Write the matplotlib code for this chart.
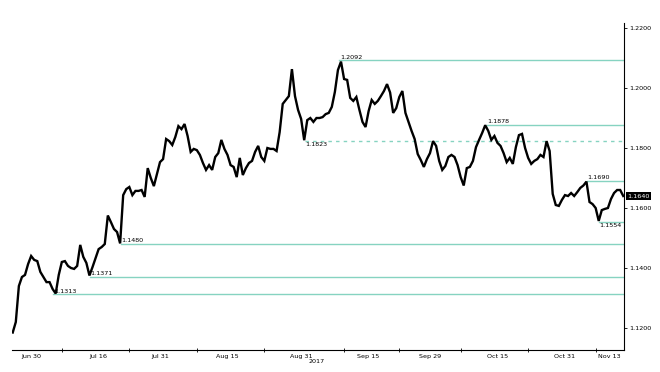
import numpy as np
import matplotlib.pyplot as plt

# EUR/USD, two samples per trading day, x = trading days since 2017-06-26
start = "2017-06-26"
first_day = 1.0
step = 0.5
eurusd = [
    1.1185, 1.1220, 1.1340, 1.1370, 1.1377, 1.1413, 1.1440, 1.1427, 1.1423, 1.1387,
    1.1370, 1.1353, 1.1353, 1.1330, 1.1315, 1.1377, 1.1420, 1.1423, 1.1407, 1.1400,
    1.1397, 1.1407, 1.1477, 1.1437, 1.1417, 1.1375, 1.1403, 1.1433, 1.1463, 1.1470,
    1.1480, 1.1575, 1.1553, 1.1530, 1.1520, 1.1482, 1.1643, 1.1663, 1.1670, 1.1643,
    1.1657, 1.1657, 1.1660, 1.1637, 1.1733, 1.1700, 1.1673, 1.1713, 1.1753, 1.1763,
    1.1830, 1.1823, 1.1810, 1.1837, 1.1873, 1.1863, 1.1880, 1.1840, 1.1787, 1.1797,
    1.1793, 1.1777, 1.1750, 1.1727, 1.1743, 1.1727, 1.1770, 1.1783, 1.1827, 1.1797,
    1.1777, 1.1743, 1.1737, 1.1703, 1.1767, 1.1710, 1.1733, 1.1750, 1.1757, 1.1787,
    1.1807, 1.1770, 1.1757, 1.1800, 1.1797, 1.1797, 1.1790, 1.1853, 1.1947, 1.1960,
    1.1973, 1.2063, 1.1973, 1.1927, 1.1897, 1.1826, 1.1893, 1.1900, 1.1887, 1.1900,
    1.1900, 1.1903, 1.1913, 1.1917, 1.1937, 1.1987, 1.2060, 1.2088, 1.2030, 1.2027,
    1.1967, 1.1957, 1.1970, 1.1927, 1.1887, 1.1870, 1.1923, 1.1960, 1.1947, 1.1957,
    1.1973, 1.1990, 1.2013, 1.1985, 1.1917, 1.1933, 1.1970, 1.1990, 1.1917, 1.1887,
    1.1857, 1.1830, 1.1780, 1.1760, 1.1737, 1.1763, 1.1783, 1.1823, 1.1807, 1.1757,
    1.1727, 1.1740, 1.1770, 1.1777, 1.1770, 1.1743, 1.1703, 1.1675, 1.1733, 1.1737,
    1.1757, 1.1803, 1.1827, 1.1850, 1.1876, 1.1857, 1.1827, 1.1840, 1.1817, 1.1807,
    1.1783, 1.1753, 1.1767, 1.1747, 1.1803, 1.1843, 1.1847, 1.1800, 1.1767, 1.1747,
    1.1757, 1.1763, 1.1777, 1.1770, 1.1823, 1.1790, 1.1647, 1.1610, 1.1607, 1.1627,
    1.1643, 1.1640, 1.1650, 1.1640, 1.1653, 1.1667, 1.1675, 1.1688, 1.1620, 1.1613,
    1.1600, 1.1557, 1.1593, 1.1597, 1.1600, 1.1630, 1.1650, 1.1660, 1.1660, 1.1640,
]
last_price = 1.1640

# support / resistance levels and the trading day they start from
levels = [1.2092, 1.1878, 1.1823, 1.1690, 1.1554, 1.1480, 1.1371, 1.1313]
level_from = [54.2, 78.3, 48.6, 94.6, 96.5, 18.6, 13.6, 7.6]
label_above = [True, True, False, True, False, True, True, True]
level_dashed = [False, False, True, False, False, False, False, False]

tick_dates = ["2017-06-30", "2017-07-16", "2017-07-31", "2017-08-15", "2017-08-31",
              "2017-09-15", "2017-09-29", "2017-10-15", "2017-10-31", "2017-11-13"]
tick_labels = ["Jun 30", "Jul 16", "Jul 31", "Aug 15", "Aug 31",
               "Sep 15", "Sep 29", "Oct 15", "Oct 31", "Nov 13"]
minor_dates = ["2017-07-07", "2017-07-24", "2017-08-08", "2017-08-23", "2017-09-11",
               "2017-09-22", "2017-10-06", "2017-10-23", "2017-11-07"]
y_ticks = [1.12, 1.14, 1.16, 1.18, 1.20, 1.22]

teal = "#86d3c1"
fs = 4.6
plt.rcParams['font.family'] = ['DejaVu Sans']

fig = plt.figure(figsize=(6.6, 3.72), dpi=100)
ax = fig.add_axes([12 / 660, 1 - 350 / 372, (624 - 12) / 660, (350 - 23) / 372])

x = first_day + step * np.arange(len(eurusd))
x_max = 100.62
ax.set_xlim(0.88, x_max)
ax.set_ylim(1.11267, 1.22167)

for lv, x0, above, dash in zip(levels, level_from, label_above, level_dashed):
    ax.plot([x0, x_max], [lv, lv], color=teal, lw=1.0,
            ls=(0, (2.5, 3)) if dash else "-", zorder=1)
    ax.text(x0 + 0.1, lv + (0.0002 if above else -0.0003), f"{lv:.4f}",
            ha="left", va="bottom" if above else "top", fontsize=fs, color="black")

ax.plot(x, eurusd, color="black", lw=1.7, zorder=3, solid_joinstyle="miter")

# right axis
ax.yaxis.tick_right()
ax.set_yticks(y_ticks)
ax.set_yticklabels([f"{v:.4f}" for v in y_ticks])
ax.tick_params(axis="y", labelsize=fs, length=2.5, width=0.6, pad=1.5)
ax.spines["left"].set_visible(False)
ax.spines["top"].set_visible(False)
ax.spines["right"].set_linewidth(0.8)
ax.spines["bottom"].set_linewidth(0.8)

tick_pos = [np.busday_count(start, d) for d in tick_dates]
minor_pos = [np.busday_count(start, d) for d in minor_dates]
ax.set_xticks(tick_pos)
ax.set_xticklabels(tick_labels)
ax.set_xticks(minor_pos, minor=True)
ax.tick_params(axis="x", which="major", labelsize=fs, length=0, pad=3)
ax.tick_params(axis="x", which="minor", length=2.5, width=0.6, direction="inout")
ax.get_xticklabels()[-1].set_ha("right")

ax.annotate("2017", xy=(tick_pos[4], 1.11267), xycoords="data",
            xytext=(15, -11), textcoords="offset pixels",
            ha="center", va="center", fontsize=fs)

ax.annotate(f"{last_price:.4f}", xy=(1, last_price), xycoords=("axes fraction", "data"),
            xytext=(3, 0), textcoords="offset pixels", ha="left", va="center",
            fontsize=fs, color="white",
            bbox=dict(boxstyle="square,pad=0.2", fc="black", ec="none"))

fig.savefig("out.png", dpi=100)
